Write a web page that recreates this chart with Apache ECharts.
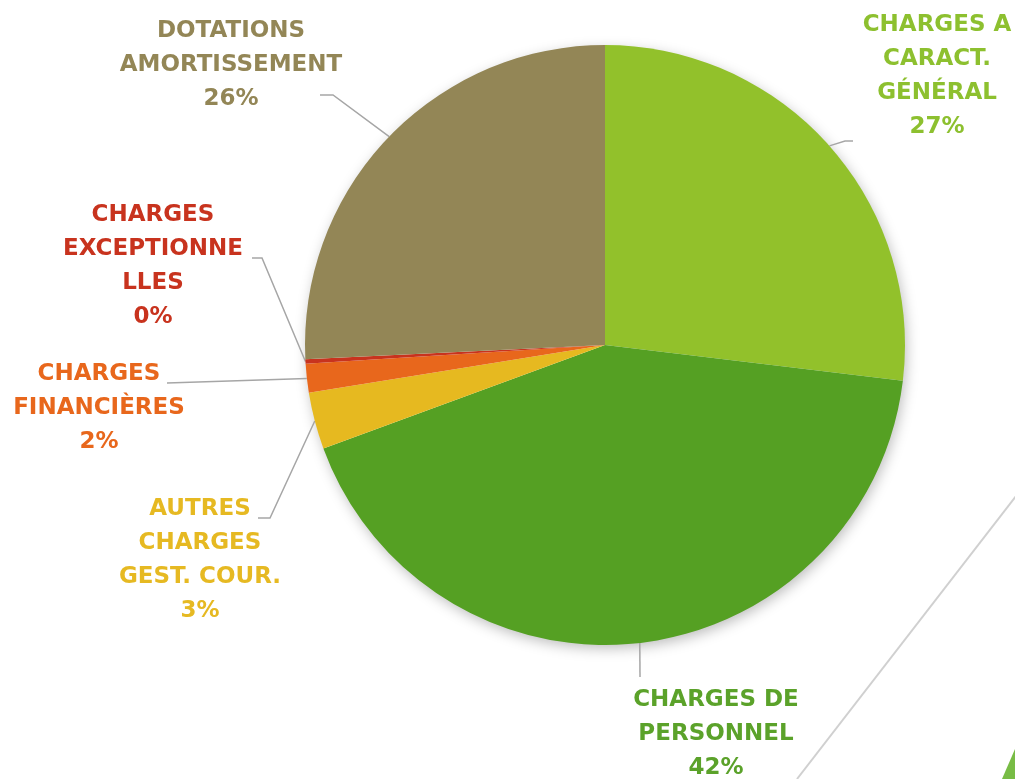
<!DOCTYPE html>
<html lang="fr">
  <head>
    <meta charset="UTF-8" />
    <title>Répartition des charges</title>
    <style>
      html, body { margin: 0; padding: 0; background: #fff; }
      #chart { width: 1015px; height: 779px; }
    </style>
  </head>
  <body>
    <div id="chart"></div>
    <script src="https://cdn.jsdelivr.net/npm/echarts@6/dist/echarts.min.js"></script>
    <script>
      // postes de charges (ordre horaire depuis midi)
      const categories = [
        "CHARGES A\nCARACT.\nGÉNÉRAL",
        "CHARGES DE\nPERSONNEL",
        "AUTRES\nCHARGES\nGEST. COUR.",
        "CHARGES\nFINANCIÈRES",
        "CHARGES\nEXCEPTIONNE\nLLES",
        "DOTATIONS\nAMORTISSEMENT"
      ];
      // parts (%)
      const values = [26.9, 42.5, 3.05, 1.55, 0.25, 25.75];
      const colors = ["#92C12B", "#55A023", "#E6B920", "#E8671C", "#C8331E", "#938656"];
      const textColors = ["#8DC02F", "#5BA22A", "#E6B922", "#E8671C", "#C8331E", "#938656"];

      const center = [605, 345];
      const radius = 300;

      // position des étiquettes (centre du bloc de texte)
      const labelPos = [
        [937, 76],
        [716, 734],
        [200, 560],
        [99, 408],
        [153, 266],
        [231, 65]
      ];
      // lignes de rappel : angle d'accroche (null = milieu du secteur), puis coudes
      const leaders = [
        { angle: null, pts: [[845, 141], [853, 141]] },
        { angle: null, pts: [[640, 677]] },
        { angle: null, pts: [[270, 518], [258, 518]] },
        { angle: null, pts: [[167, 383]] },
        { angle: null, pts: [[262, 258], [252, 258]] },
        { angle: 314, pts: [[333, 95], [320, 95]] }
      ];

      const chart = echarts.init(document.getElementById("chart"));
      const option = {
        animation: false,
        graphic: [
          {
            type: "circle",
            z: -10,
            shape: { cx: center[0], cy: center[1], r: radius - 1 },
            style: {
              fill: "#ffffff",
              shadowBlur: 14,
              shadowOffsetX: 2,
              shadowOffsetY: 4,
              shadowColor: "rgba(0,0,0,0.28)"
            }
          },
          {
            type: "line",
            shape: { x1: 1016, y1: 496, x2: 797, y2: 779 },
            style: { stroke: "#D0D0D0", lineWidth: 2 }
          },
          {
            type: "polygon",
            shape: { points: [[1015, 749], [1002, 779], [1015, 779]] },
            style: { fill: "#78BC45" }
          }
        ],
        series: [
          {
            type: "pie",
            center: center,
            radius: radius,
            startAngle: 90,
            clockwise: true,
            percentPrecision: 0,
            data: categories.map((name, i) => ({
              name: name,
              value: values[i],
              itemStyle: { color: colors[i] },
              label: { color: textColors[i] }
            })),
            label: {
              show: true,
              formatter: "{b}\n{d}%",
              fontFamily: "DejaVu Sans",
              fontWeight: "bold",
              fontSize: 23,
              lineHeight: 34,
              align: "center",
              overflow: "none"
            },
            labelLine: {
              show: true,
              lineStyle: { color: "#A6A6A6", width: 1.5 }
            },
            labelLayout: function (params) {
              const i = params.dataIndex;
              const p = labelPos[i];
              const ld = leaders[i];
              let start;
              if (ld.angle == null && params.labelLinePoints) {
                start = params.labelLinePoints[0];
              } else {
                const a = ((ld.angle == null ? 0 : ld.angle) * Math.PI) / 180;
                start = [center[0] + radius * Math.sin(a), center[1] - radius * Math.cos(a)];
              }
              return {
                x: p[0],
                y: p[1],
                align: "center",
                verticalAlign: "middle",
                labelLinePoints: [start].concat(ld.pts)
              };
            }
          }
        ]
      };
      chart.setOption(option);
    </script>
  </body>
</html>
